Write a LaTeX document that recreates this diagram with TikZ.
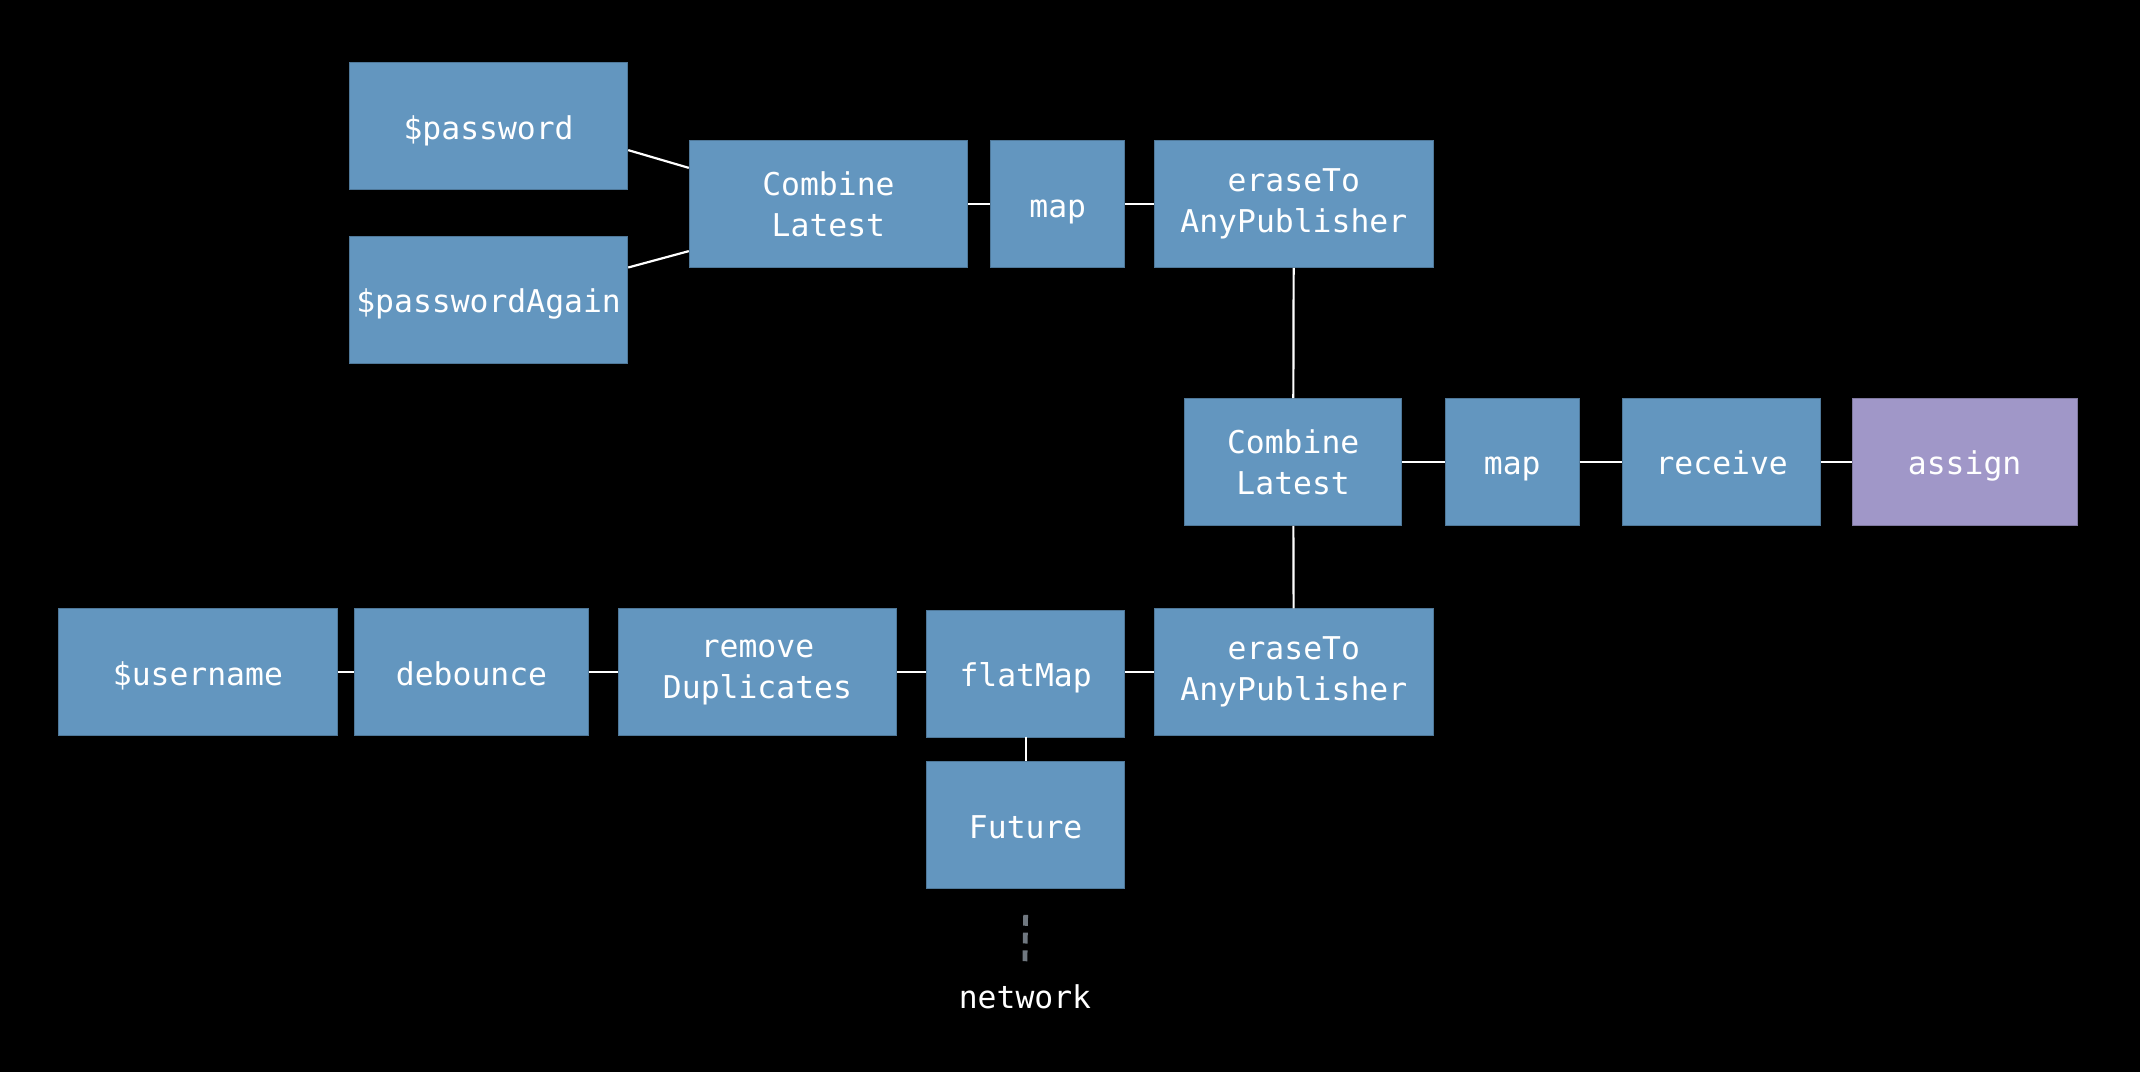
\documentclass[tikz,border=0pt]{standalone}
\usepackage{fontspec}
\setmonofont{DejaVu Sans Mono}
\usepackage{tikz}
\usetikzlibrary{calc,positioning}
\definecolor{opblue}{RGB}{99,150,191}
\definecolor{oppurple}{RGB}{160,151,200}
\definecolor{netgray}{RGB}{112,120,128}
\tikzset{
  opbox/.style={fill=opblue, draw=opblue!80!black, line width=0.6pt, text=white, align=center,
    inner sep=0pt, minimum height=93pt, font=\ttfamily\fontsize{23}{30}\selectfont},
  oneline/.style={text height=21.5pt, text depth=2.5pt},
  link/.style={draw=white, line width=1.6pt}
}

\begin{document}
\begin{tikzpicture}[x=1pt,y=-1pt]
        \useasboundingbox (0,0) rectangle (1568,785);
        \fill[black] (-6,-6) rectangle (1574,791);
        %Boxes, top
        \node[opbox, oneline, minimum width=204pt] (pw) at (358,92.5) {\$password};
        \node[opbox, oneline, minimum width=204pt] (pwa) at (358,219.5) {\$passwordAgain};
        \node[opbox, minimum width=204pt] (cl1) at (607,149.5) {Combine\\Latest};
        \node[opbox, oneline, minimum width=98pt] (map1) at (775,149.5) {map};
        \node[opbox, minimum width=204pt] (erase1) at (948,149.5) {eraseTo\\AnyPublisher};
        %Boxes, middle
        \node[opbox, minimum width=159pt] (cl2) at (947.5,338.5) {Combine\\Latest};
        \node[opbox, oneline, minimum width=98pt] (map2) at (1108,338.5) {map};
        \node[opbox, oneline, minimum width=145pt] (recv) at (1261.5,338.5) {receive};
        \node[opbox, oneline, minimum width=165pt, fill=oppurple, draw=oppurple!80!black] (asg) at (1439.5,338.5) {assign};
        %Boxes, bottom
        \node[opbox, oneline, minimum width=204pt] (user) at (145,492.5) {\$username};
        \node[opbox, oneline, minimum width=171pt] (deb) at (345.5,492.5) {debounce};
        \node[opbox, minimum width=204pt] (rmdup) at (555,492.5) {remove\\Duplicates};
        \node[opbox, oneline, minimum width=145pt] (flat) at (751.5,493.5) {flatMap};
        \node[opbox, minimum width=204pt] (erase2) at (948,492.5) {eraseTo\\AnyPublisher};
        \node[opbox, oneline, minimum width=145pt] (fut) at (751.5,604.5) {Future};
        \node[text=white, font=\ttfamily\fontsize{23}{30}\selectfont] (net) at (751,730) {network};
        %Edges
        \draw[link] ([yshift=-17.5]pw.east) -- ([yshift=26.5]cl1.west);
        \draw[link] ([yshift=23.5]pwa.east) -- ([yshift=-34.5]cl1.west);
        \draw[link] (cl1) -- (map1) -- (erase1);
        \draw[link] (erase1) -- (cl2) -- (erase2);
        \draw[link] (cl2) -- (map2) -- (recv) -- (asg);
        \draw[link] (user) -- (deb) -- (rmdup);
        \draw[link] (rmdup.east) -- (rmdup.east -| flat.west);
        \draw[link] (erase2.west -| flat.east) -- (erase2.west);
        \draw[link] (flat) -- (fut);
        \draw[netgray, line width=3.5pt, dash pattern=on 8pt off 5pt] ([yshift=-19]fut.south) -- ([yshift=13]net.north);
\end{tikzpicture}
\end{document}
